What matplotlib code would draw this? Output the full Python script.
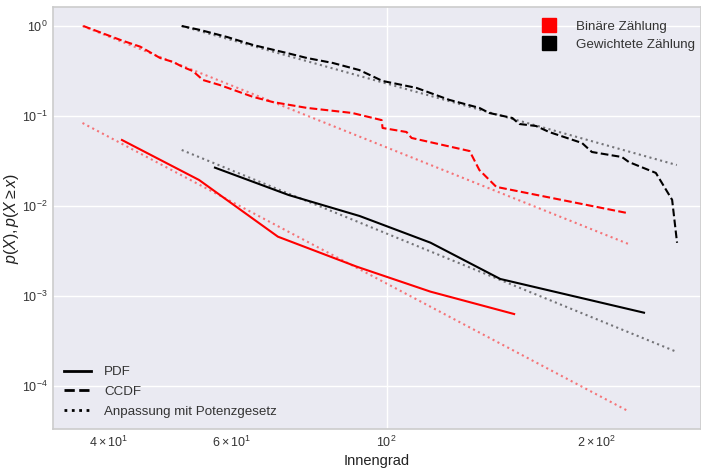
#!/usr/bin/env python
import matplotlib
matplotlib.use("Agg")
import matplotlib.pyplot as plt
from matplotlib.lines import Line2D

plt.rcParams['font.family'] = ['Liberation Sans', 'DejaVu Sans']
plt.rcParams['mathtext.fontset'] = 'custom'
plt.rcParams['mathtext.rm'] = 'Liberation Sans'
plt.rcParams['mathtext.it'] = 'Liberation Sans:italic'
plt.rcParams['mathtext.bf'] = 'Liberation Sans:bold'

# CCDF, binary count
bin_ccdf_x = [36.8, 41.6, 44.4, 47.4, 49.5, 51.1, 52.8, 54.6, 57.7, 64.4, 68.7, 76.9,
              89.3, 98.4, 98.7, 106.8, 108.6, 131.5, 135.8, 143.6, 220.3]
bin_ccdf_y = [1.0, 0.699, 0.589, 0.441, 0.398, 0.350, 0.316, 0.251, 0.221, 0.163, 0.143, 0.123,
              0.108, 0.090, 0.0736, 0.0664, 0.057, 0.0408, 0.0251, 0.0163, 0.0084]
# CCDF, weighted count
w_ccdf_x = [50.9, 54.1, 59.1, 64.4, 72.0, 76.9, 83.8, 91.4, 98.7, 110.4, 123.0, 135.8,
            140.3, 151.4, 154.9, 163.7, 170.9, 190.5, 196.8, 217.3, 222.3, 243.0, 256.4, 260.6]
w_ccdf_y = [1.0, 0.903, 0.755, 0.615, 0.501, 0.441, 0.388, 0.324, 0.245, 0.205, 0.151, 0.123,
            0.108, 0.095, 0.0815, 0.0774, 0.0664, 0.0501, 0.0398, 0.035, 0.0308, 0.0233, 0.0117, 0.0039]
# PDF
bin_pdf_x = [41.8, 53.9, 69.9, 90.6, 115.6, 152.3]
bin_pdf_y = [0.0541, 0.01945, 0.00456, 0.00212, 0.001117, 0.00063]
w_pdf_x = [56.8, 72.4, 91.5, 115.6, 145.5, 233.7]
w_pdf_y = [0.02666, 0.01325, 0.00774, 0.00391, 0.001545, 0.000652]
# power-law fits (end points)
bin_fit_pdf_x = [36.7, 221.7]
bin_fit_pdf_y = [0.0836, 5.27e-5]
bin_fit_ccdf_x = [36.7, 221.7]
bin_fit_ccdf_y = [1.0, 0.0038]
w_fit_pdf_x = [50.9, 260.4]
w_fit_pdf_y = [0.0419, 0.000239]
w_fit_ccdf_x = [50.9, 260.4]
w_fit_ccdf_y = [1.0, 0.0285]

fig = plt.figure(figsize=(7.01, 4.70), dpi=100)
ax = fig.add_axes([53/701, 41/470, 648/701, 422/470])
ax.set_facecolor('#EAEAF2')
for s in ax.spines.values():
    s.set_color('#cccccc')
    s.set_linewidth(1.2)

lw = 1.5
ax.plot(bin_fit_pdf_x, bin_fit_pdf_y, ':', color='#ff0000', alpha=0.5, lw=lw)
ax.plot(bin_fit_ccdf_x, bin_fit_ccdf_y, ':', color='#ff0000', alpha=0.5, lw=lw)
ax.plot(w_fit_pdf_x, w_fit_pdf_y, ':', color='black', alpha=0.5, lw=lw)
ax.plot(w_fit_ccdf_x, w_fit_ccdf_y, ':', color='black', alpha=0.5, lw=lw)
ax.plot(bin_pdf_x, bin_pdf_y, '-', color='#ff0000', lw=lw)
ax.plot(w_pdf_x, w_pdf_y, '-', color='black', lw=lw)
ax.plot(bin_ccdf_x, bin_ccdf_y, '--', color='#ff0000', lw=lw)
ax.plot(w_ccdf_x, w_ccdf_y, '--', color='black', lw=lw)

ax.set_xscale('log')
ax.set_yscale('log')
ax.set_xlim(33.3, 282)
ax.set_ylim(10**-4.478, 10**0.211)
ax.grid(True, which='major', color='white', lw=1)
ax.set_axisbelow(True)
ax.tick_params(which='both', length=0, labelsize=9, colors='#333333', pad=4)

ax.set_xlabel('Innengrad', fontsize=10.5, color='#222222', labelpad=3)
ax.set_ylabel(r'$p(X), p(X \geq x)$', fontsize=11.5, color='#222222')
ax.yaxis.set_label_coords(-0.05, 0.5)

h1 = [Line2D([], [], ls='none', marker='s', ms=10, color='#ff0000'),
      Line2D([], [], ls='none', marker='s', ms=10, color='black')]
leg1 = ax.legend(h1, ['Binäre Zählung', 'Gewichtete Zählung'], loc='upper right',
                 bbox_to_anchor=(1.009, 0.997), frameon=False, fontsize=9.6,
                 handletextpad=1.0, labelspacing=0.45, labelcolor='#333333')
ax.add_artist(leg1)
h2 = [Line2D([], [], ls='-', color='black', lw=2),
      Line2D([], [], ls='--', color='black', lw=2),
      Line2D([], [], ls=':', color='black', lw=2)]
ax.legend(h2, ['PDF', 'CCDF', 'Anpassung mit Potenzgesetz'], loc='lower left',
          frameon=False, fontsize=9.6, handletextpad=1.0, labelspacing=0.55,
          borderaxespad=0.45, labelcolor='#333333')

fig.savefig('out.png', dpi=100)
